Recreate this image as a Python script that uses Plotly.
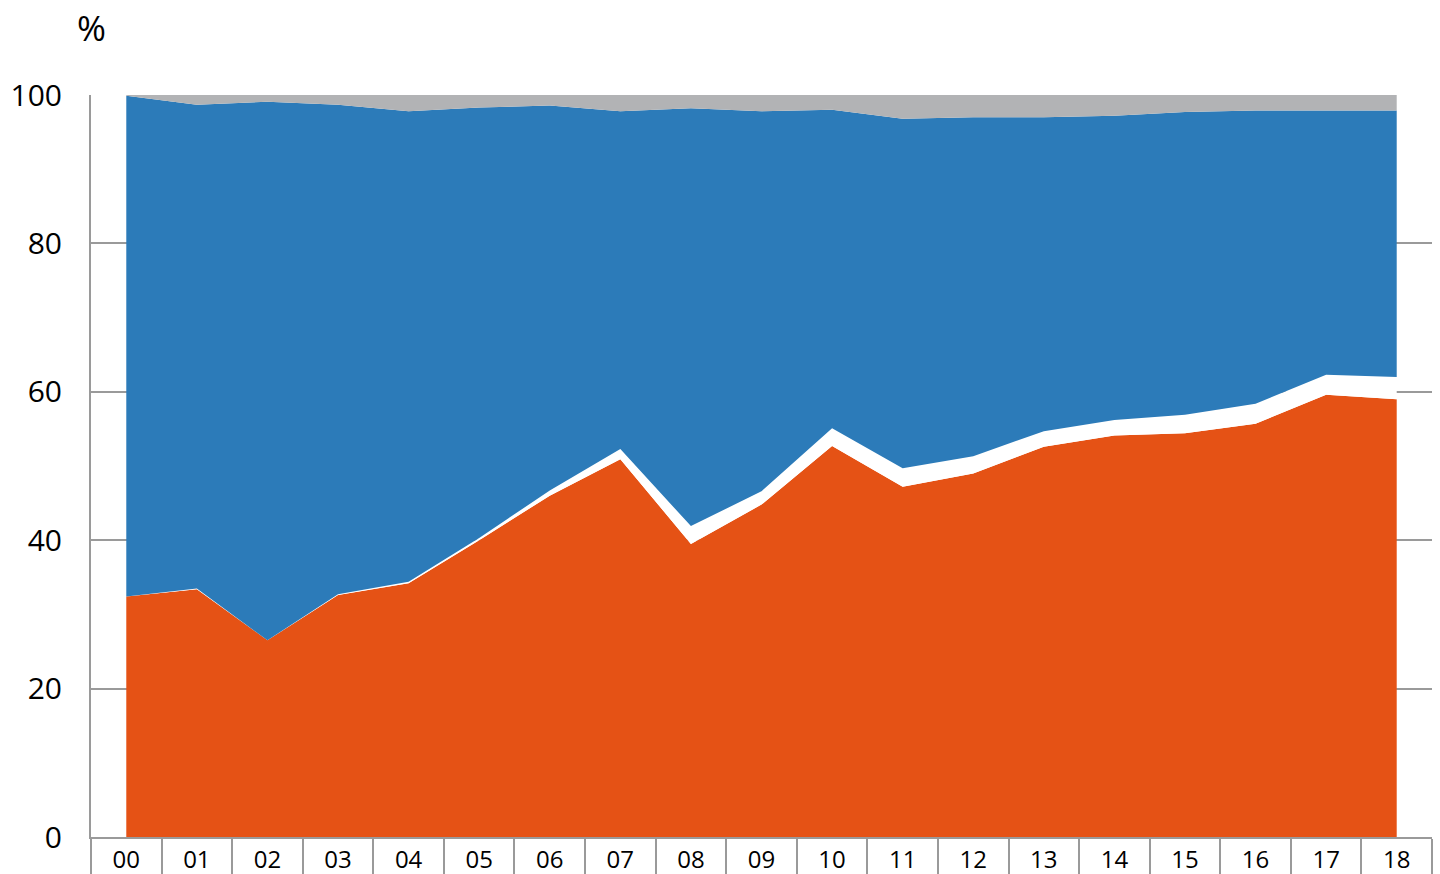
import plotly.graph_objects as go

# Years 2000-2018, shown as two-digit labels
years = ["00", "01", "02", "03", "04", "05", "06", "07", "08", "09",
         "10", "11", "12", "13", "14", "15", "16", "17", "18"]

# Shares in percent, stacked bottom to top
share_orange = [32.4, 33.4, 26.5, 32.6, 34.2, 40.0, 46.0, 50.9, 39.5, 44.8,
                52.7, 47.2, 49.0, 52.6, 54.1, 54.4, 55.7, 59.6, 59.0]
share_white = [0.0, 0.1, 0.0, 0.1, 0.2, 0.3, 0.7, 1.4, 2.4, 1.8,
               2.4, 2.5, 2.3, 2.1, 2.1, 2.5, 2.7, 2.7, 3.0]
share_blue = [67.5, 65.2, 72.6, 66.0, 63.4, 58.0, 51.9, 45.5, 56.3, 51.2,
              42.9, 47.1, 45.7, 42.3, 41.0, 40.8, 39.5, 35.6, 35.9]
share_gray = [0.1, 1.3, 0.9, 1.3, 2.2, 1.7, 1.4, 2.2, 1.8, 2.2,
              2.0, 3.2, 3.0, 3.0, 2.8, 2.3, 2.1, 2.1, 2.1]

y_ticks = [0, 20, 40, 60, 80, 100]

x_pos = list(range(len(years)))
AXIS_GREY = "#9a9a9a"

fig = go.Figure()
for vals, color in [(share_orange, "#E55215"),
                    (share_white, "#FFFFFF"),
                    (share_blue, "#2C7BB9"),
                    (share_gray, "#B2B3B5")]:
    fig.add_trace(go.Scatter(
        x=x_pos, y=vals, mode="lines", stackgroup="one",
        line=dict(width=0, color=color), fillcolor=color,
        hoverinfo="skip", showlegend=False,
    ))

fig.update_layout(
    width=1440, height=874,
    margin=dict(l=91, r=8, t=95, b=37),
    paper_bgcolor="white", plot_bgcolor="white",
    font=dict(family="Open Sans", color="black"),
    xaxis=dict(
        range=[-0.5, len(years) - 0.5], automargin=False,
        tickvals=x_pos, ticktext=years, ticks="", ticklabelstandoff=0,
        tickfont=dict(size=24), showgrid=False, zeroline=False,
        showline=True, linecolor=AXIS_GREY, linewidth=2,
        minor=dict(tickvals=[i - 0.5 for i in range(len(years) + 1)],
                   ticks="outside", ticklen=40, tickwidth=2,
                   tickcolor=AXIS_GREY, showgrid=False),
    ),
    yaxis=dict(
        range=[0, 100], tickvals=y_ticks, ticks="", automargin=False,
        tickfont=dict(size=30), ticklabelstandoff=21,
        showgrid=True, gridcolor=AXIS_GREY, gridwidth=2, zeroline=False,
        showline=True, linecolor=AXIS_GREY, linewidth=2,
    ),
    annotations=[dict(
        text="%", xref="paper", yref="paper", x=0, y=1,
        xanchor="center", yanchor="middle", yshift=68, showarrow=False,
        font=dict(size=35, family="Open Sans"),
    )],
)

fig.write_html("out.html")
